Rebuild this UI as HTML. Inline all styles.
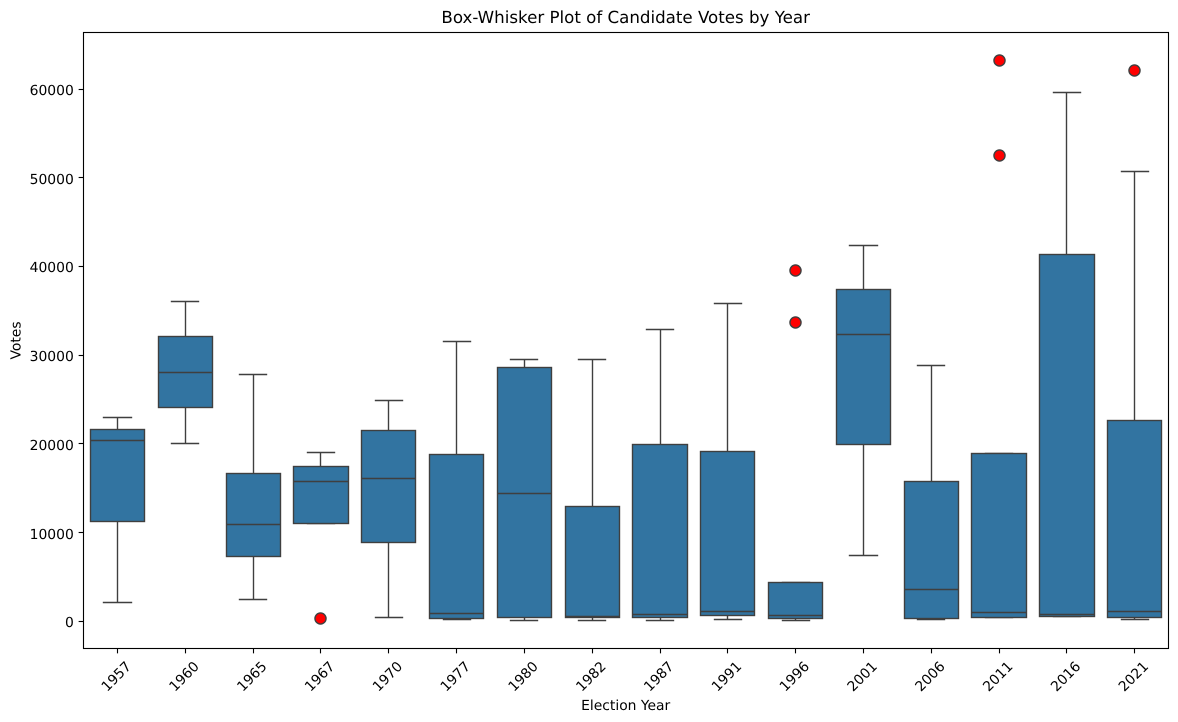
<!DOCTYPE html>
<html lang="en">
<head>
<meta charset="utf-8">
<title>Box-Whisker Plot of Candidate Votes by Year</title>
<style>
html,body{margin:0;padding:0;background:#fff;width:1178px;height:722px;overflow:hidden}
svg{display:block}
text{font-family:"DejaVu Sans","Liberation Sans",sans-serif;fill:#000;text-rendering:geometricPrecision}
</style>
</head>
<body>
<svg id="chart" width="1178" height="722" viewBox="0 0 1178 722" xmlns="http://www.w3.org/2000/svg">
  <rect x="0" y="0" width="1178" height="722" fill="#ffffff"/>
  <g id="marks"></g>
  <rect x="83.5" y="32.5" width="1085" height="616" fill="none" stroke="#000" stroke-width="1.11"/>
  <g id="x-axis"></g>
  <g id="y-axis"></g>
  <text x="625.7" y="23" font-size="16.67" text-anchor="middle">Box-Whisker Plot of Candidate Votes by Year</text>
  <text x="625.7" y="710" font-size="13.89" text-anchor="middle">Election Year</text>
  <text x="0" y="0" font-size="13.89" text-anchor="middle" transform="translate(20.5 340.5) rotate(-90)">Votes</text>
</svg>
<script>
const categories = ["1957","1960","1965","1967","1970","1977","1980","1982","1987","1991","1996","2001","2006","2011","2016","2021"];
const whiskerLow = [2154,20083,2492,11017,440,237,124,124,124,237,124,7407,237,383,496,237];
const quartile1 = [11287,24142,7341,11039,8919,350,462,462,462,688,350,19970,350,417,575,462];
const medians = [20421,28042,10949,15798,16136,900,14398,530,801,1139,688,32373,3620,1026,801,1139];
const quartile3 = [21661,32102,16654,17489,21549,18820,28630,12933,19924,19158,4386,37401,15775,18909,41394,22653];
const whiskerHigh = [23014,36048,27817,19068,24885,31562,29508,29508,32891,35823,4395,42409,28878,18915,59615,50753];
const outliers = [[],[],[],[350],[],[],[],[],[],[],[33726,39590],[],[],[52557,63270],[],[62142]];
const yTicks = [0,10000,20000,30000,40000,50000,60000];

const NS = "http://www.w3.org/2000/svg";
const plotLeft = 83.12, plotRight = 1168.12, plotBottom = 648.5;
const yZero = 621.8, pxPerUnit = 88.7 / 10000;
const slot = (plotRight - plotLeft) / categories.length;
const boxWidth = slot * 0.8, capWidth = slot * 0.4;
const lineColor = "#3f3f3f", boxColor = "#3274a1", lineW = 1.39;

function xCenter(i) { return plotLeft + slot * (i + 0.5); }
function yPos(v) { return yZero - v * pxPerUnit; }
function snapX(p) { return Math.round(p) + 0.5; }
function snapY(p) { return Math.round(p) - 0.5; }

function make(tag, parent, attrs) {
  const el = document.createElementNS(NS, tag);
  for (const k in attrs) el.setAttribute(k, attrs[k]);
  parent.appendChild(el);
  return el;
}

const marks = document.getElementById("marks");
const xAxis = document.getElementById("x-axis");
const yAxis = document.getElementById("y-axis");

categories.forEach(function (cat, i) {
  const cx = xCenter(i), sx = snapX(cx);
  const group = make("g", marks, {});
  
  

  const lowY = snapY(yPos(whiskerLow[i])), highY = snapY(yPos(whiskerHigh[i]));
  const q1Y = snapY(yPos(quartile1[i])), q3Y = snapY(yPos(quartile3[i]));
  const medY = snapY(yPos(medians[i]));
  const capL = snapX(cx - capWidth / 2), capR = snapX(cx + capWidth / 2);

  const wLow = make("line", group, {x1: sx, x2: sx, y1: q1Y, y2: lowY, stroke: lineColor, "stroke-width": lineW});
  
  

  const wHigh = make("line", group, {x1: sx, x2: sx, y1: q3Y, y2: highY, stroke: lineColor, "stroke-width": lineW});
  
  

  const capLow = make("line", group, {x1: capL, x2: capR, y1: lowY, y2: lowY, stroke: lineColor, "stroke-width": lineW, "stroke-linecap": "square"});
  
  

  const capHigh = make("line", group, {x1: capL, x2: capR, y1: highY, y2: highY, stroke: lineColor, "stroke-width": lineW, "stroke-linecap": "square"});
  
  

  const left = snapX(cx - boxWidth / 2), right = snapX(cx + boxWidth / 2);
  const box = make("rect", group, {x: left, y: q3Y, width: right - left, height: q1Y - q3Y, fill: boxColor, stroke: lineColor, "stroke-width": lineW});
  
  

  const med = make("line", group, {x1: left, x2: right, y1: medY, y2: medY, stroke: lineColor, "stroke-width": lineW});
  
  

  outliers[i].forEach(function (v) {
    const dot = make("circle", group, {cx: sx, cy: snapY(yPos(v)), r: 5.55, fill: "#ff0000", stroke: lineColor, "stroke-width": lineW});
    
    
  });

  const tick = make("line", xAxis, {x1: sx, x2: sx, y1: plotBottom, y2: plotBottom + 4.86, stroke: "#000", "stroke-width": 1.11});
  
  

  const label = make("text", xAxis, {x: 0, y: 5, "font-size": 13.89, "text-anchor": "middle", transform: "translate(" + (cx - 1) + " 676.2) rotate(-45)"});
  
  
  label.textContent = cat;
});

yTicks.forEach(function (v) {
  const y = snapY(yPos(v));
  const tick = make("line", yAxis, {x1: 83.5 - 4.86, x2: 83.5, y1: y, y2: y, stroke: "#000", "stroke-width": 1.11});
  
  

  const label = make("text", yAxis, {x: 73.8, y: Math.round(yPos(v) + 5.5), "font-size": 13.89, "text-anchor": "end"});
  
  
  label.textContent = String(v);
});
</script>
</body>
</html>
